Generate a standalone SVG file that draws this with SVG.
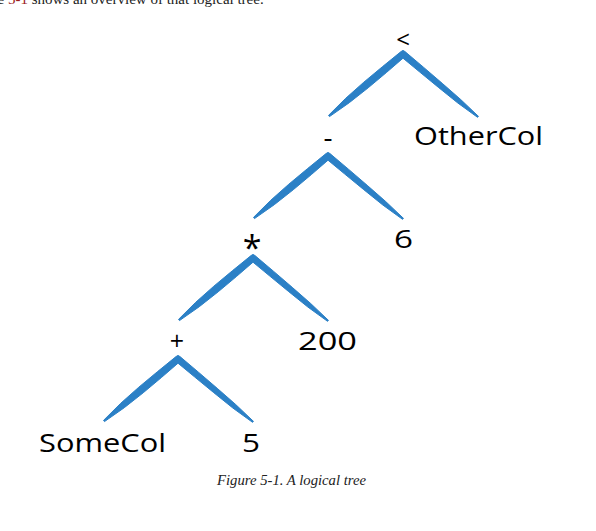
<svg xmlns="http://www.w3.org/2000/svg" xmlns:xlink="http://www.w3.org/1999/xlink" width="596" height="531" viewBox="0 0 596 531">
<style>
.lbl{font-family:"Open Sans","DejaVu Sans",sans-serif;font-weight:400;fill:#000;font-size:26px}
.op{font-family:"Open Sans","DejaVu Sans",sans-serif;font-weight:400;fill:#000;text-anchor:middle}
.brush{fill:#2b80c6;stroke:#2b80c6;stroke-width:1;stroke-linejoin:round}
.cap{font-family:"Liberation Serif","Times New Roman",serif;font-style:italic;font-size:14px;fill:#222}
.top{font-family:"Liberation Serif","Times New Roman",serif;font-size:15px;fill:#222}
</style>
<defs>
<path id="fork" class="brush" d="M -74.5,61.4 L -57.3,44.3 L -39.2,28.2 L -20.7,12.8 L -2,-2.4 L 0,-3.6 L 2,-2.4 L 20.7,13.4 L 39.2,29.3 L 57.7,45.5 L 75.5,62.4 L 74.5,63.3 L 54.8,49 L 35.8,33.7 L 16.8,18.1 L 0,4.2 L -16.3,18.3 L -34.8,33.8 L -53.7,48.7 L -73.5,62.6 Z"/>
</defs>
<rect width="596" height="531" fill="#fff"/>
<text class="top" x="-35" y="4">Figure <tspan fill="#9b1c1c">5-1</tspan> shows an overview of that logical tree.</text>
<g id="connectors">
<use xlink:href="#fork" x="403" y="54"/>
<use xlink:href="#fork" x="328" y="156"/>
<use xlink:href="#fork" x="253" y="258"/>
<use xlink:href="#fork" x="178" y="359"/>
</g>
<g id="node-lt"><text class="op" x="403" y="48" font-size="24">&lt;</text></g>
<g id="node-minus"><text class="op" x="328" y="147" font-size="28">-</text></g>
<g id="node-othercol"><text class="lbl" x="414" y="145" textLength="129" lengthAdjust="spacingAndGlyphs">OtherCol</text></g>
<g id="node-times"><text class="op" x="252" y="260" font-size="34">*</text></g>
<g id="node-6"><text class="lbl" x="394" y="248" textLength="19" lengthAdjust="spacingAndGlyphs">6</text></g>
<g id="node-plus"><text class="op" x="177" y="350" font-size="25">+</text></g>
<g id="node-200"><text class="lbl" x="298" y="350" textLength="59" lengthAdjust="spacingAndGlyphs">200</text></g>
<g id="node-somecol"><text class="lbl" x="39" y="452" textLength="127" lengthAdjust="spacingAndGlyphs">SomeCol</text></g>
<g id="node-5"><text class="lbl" x="242" y="452" textLength="18" lengthAdjust="spacingAndGlyphs">5</text></g>
<text class="cap" x="217" y="485" textLength="149" lengthAdjust="spacingAndGlyphs">Figure 5-1. A logical tree</text>
</svg>
